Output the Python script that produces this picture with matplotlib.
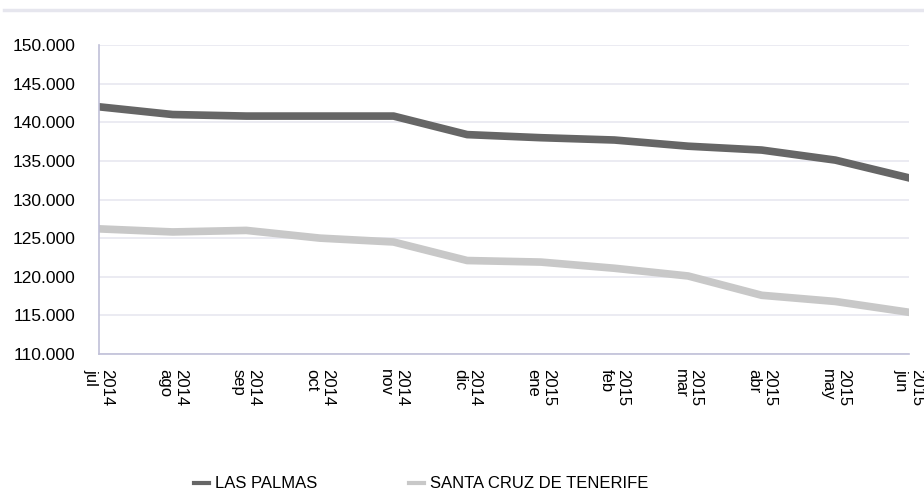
import matplotlib
matplotlib.use("Agg")
import matplotlib.pyplot as plt
from matplotlib.lines import Line2D

plt.rcParams['font.family'] = ['Liberation Sans', 'DejaVu Sans']

months = ["jul", "ago", "sep", "oct", "nov", "dic", "ene", "feb", "mar", "abr", "may", "jun"]
years = ["2014"] * 6 + ["2015"] * 6
las_palmas = [142000, 141000, 140800, 140800, 140800, 138400, 138000, 137700, 136900, 136400, 135100, 132800]
santa_cruz = [126200, 125800, 126000, 125000, 124500, 122100, 121900, 121100, 120100, 117600, 116800, 115400]
yticks = [110000, 115000, 120000, 125000, 130000, 135000, 140000, 145000, 150000]

fig = plt.figure(figsize=(9.24, 4.93), dpi=100)
ax = fig.add_axes([99/924, 1 - 354/493, (909-99)/924, (354-45)/493])

x = list(range(len(months)))
ax.plot(x, las_palmas, color="#666666", lw=5.5, solid_joinstyle='round', label="LAS PALMAS")
ax.plot(x, santa_cruz, color="#c8c8c8", lw=5.5, solid_joinstyle='round', label="SANTA CRUZ DE TENERIFE")

ax.set_xlim(0, len(months) - 1)
ax.set_ylim(110000, 150000)
ax.set_yticks(yticks)
ax.set_yticklabels([f"{v:,}".replace(",", ".") for v in yticks], fontsize=12.5)
ax.yaxis.grid(True, color="#e8e8f0", lw=1.2)
ax.set_axisbelow(True)
ax.tick_params(axis='y', length=0, pad=17)
ax.tick_params(axis='x', length=0, pad=11)

ax.set_xticks(x)
ax.set_xticklabels([f"{y}\n{m}" for y, m in zip(years, months)], rotation=-90,
                   fontsize=12, va='top', ha='center', multialignment='left',
                   linespacing=1.05)

for s in ['top', 'right']:
    ax.spines[s].set_visible(False)
for s in ['left', 'bottom']:
    ax.spines[s].set_color("#c0c0d8")
    ax.spines[s].set_linewidth(1.2)

# faint border line at top
fig.add_artist(Line2D([4/924, 1], [1 - 10/493, 1 - 10/493], color="#e6e6ee", lw=2.5))

handles = [Line2D([], [], color="#666666", lw=3), Line2D([], [], color="#c8c8c8", lw=3)]
fig.legend(handles, ["LAS PALMAS", "SANTA CRUZ DE TENERIFE"], loc='center left',
           bbox_to_anchor=(194/924, 1 - 484/493), ncol=2, frameon=False, fontsize=12,
           handlelength=0.9, handletextpad=0.36, columnspacing=5.5, borderpad=0,
           borderaxespad=0)

fig.savefig("out.png", dpi=100)
